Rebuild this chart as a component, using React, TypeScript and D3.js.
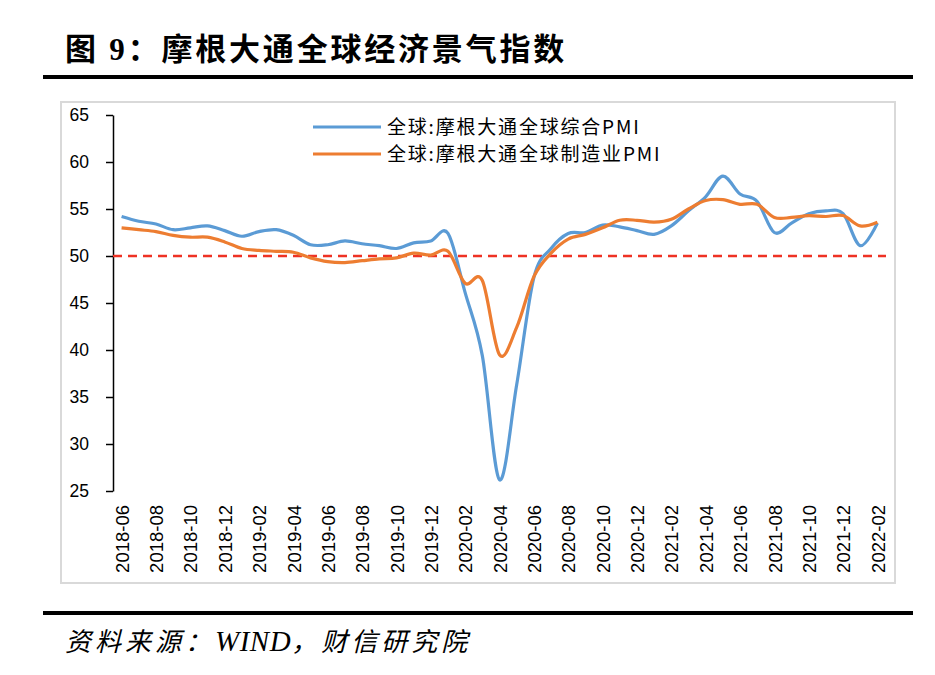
import { useEffect, useRef } from "react";
import * as d3 from "d3";

const months = [
  "2018-06", "2018-07", "2018-08", "2018-09", "2018-10", "2018-11", "2018-12",
  "2019-01", "2019-02", "2019-03", "2019-04", "2019-05", "2019-06", "2019-07",
  "2019-08", "2019-09", "2019-10", "2019-11", "2019-12",
  "2020-01", "2020-02", "2020-03", "2020-04", "2020-05", "2020-06", "2020-07",
  "2020-08", "2020-09", "2020-10", "2020-11", "2020-12",
  "2021-01", "2021-02", "2021-03", "2021-04", "2021-05", "2021-06", "2021-07",
  "2021-08", "2021-09", "2021-10", "2021-11", "2021-12",
  "2022-01", "2022-02",
];

// 全球:摩根大通全球综合PMI
const composite = [
  54.2, 53.7, 53.4, 52.8, 53.0, 53.2, 52.7,
  52.1, 52.6, 52.8, 52.2, 51.2, 51.2, 51.6,
  51.3, 51.1, 50.8, 51.4, 51.6,
  52.4, 46.1, 39.4, 26.2, 36.3, 47.7, 50.8,
  52.4, 52.5, 53.3, 53.1, 52.7,
  52.3, 53.2, 54.8, 56.3, 58.5, 56.6, 55.8,
  52.5, 53.5, 54.5, 54.8, 54.5,
  51.1, 53.5,
];

// 全球:摩根大通全球制造业PMI
const manufacturing = [
  53.0, 52.8, 52.6, 52.2, 52.0, 52.0, 51.5,
  50.8, 50.6, 50.5, 50.4, 49.8, 49.4, 49.3,
  49.5, 49.7, 49.8, 50.3, 50.1,
  50.5, 47.1, 47.4, 39.5, 42.4, 47.8, 50.3,
  51.8, 52.3, 53.0, 53.8, 53.8,
  53.6, 53.9, 55.0, 55.9, 56.0, 55.5, 55.5,
  54.1, 54.1, 54.3, 54.2, 54.3,
  53.2, 53.6,
];

const yTicks = [25, 30, 35, 40, 45, 50, 55, 60, 65];
const threshold = 50;

const seriesList = [
  { name: "全球:摩根大通全球综合PMI", values: composite, color: "#5B9BD5" },
  { name: "全球:摩根大通全球制造业PMI", values: manufacturing, color: "#ED7D31" },
];

const W = 935;
const H = 675;
const CJK = "'Noto Sans CJK SC', sans-serif";
const LATIN = "'Liberation Sans', Arial, sans-serif";

export default function App() {
  const svgRef = useRef<SVGSVGElement>(null);

  useEffect(() => {
    document.body.style.margin = "0";
    const svg = d3.select(svgRef.current);
    svg.selectAll("*").remove();

    svg.append("rect").attr("width", W).attr("height", H).attr("fill", "#fff");

    // --- Title ---
    svg
      .append("text")
      .attr("x", 65)
      .attr("y", 60)
      .attr("font-family", `'Liberation Serif', ${CJK}`)
      .attr("font-weight", "bold")
      .attr("font-size", 31)
      .attr("letter-spacing", 2.8)
      .attr("fill", "#000")
      .text("图 9：摩根大通全球经济景气指数");

    svg
      .append("line")
      .attr("x1", 43)
      .attr("x2", 913)
      .attr("y1", 77)
      .attr("y2", 77)
      .attr("stroke", "#000")
      .attr("stroke-width", 4);

    // --- Chart frame ---
    svg
      .append("rect")
      .attr("x", 61)
      .attr("y", 102)
      .attr("width", 834)
      .attr("height", 481)
      .attr("fill", "#fff")
      .attr("stroke", "#d9d9d9")
      .attr("stroke-width", 2);

    const left = 113;
    const right = 886;
    const top = 115;
    const bottom = 491;

    const x = d3.scalePoint<string>().domain(months).range([left, right]).padding(0.5);
    const y = d3.scaleLinear().domain([25, 65]).range([bottom, top]);

    // --- Y axis ---
    const yAxis = svg
      .append("g")
      .attr("transform", `translate(${left},0)`)
      .call(d3.axisLeft(y).tickValues(yTicks).tickSize(7).tickPadding(17).tickSizeOuter(0));
    yAxis.select(".domain").attr("stroke", "#000").attr("stroke-width", 1.5);
    yAxis.selectAll(".tick line").attr("stroke", "#000").attr("stroke-width", 1.5);
    yAxis
      .selectAll(".tick text")
      .attr("fill", "#000")
      .attr("font-family", LATIN)
      .attr("font-size", 17.5);

    // --- X labels (every other month) ---
    const xAxis = svg
      .append("g")
      .attr("transform", `translate(0,${505})`)
      .call(
        d3
          .axisBottom(x)
          .tickValues(months.filter((_, i) => i % 2 === 0))
          .tickSize(0)
          .tickPadding(0),
      );
    xAxis.select(".domain").remove();
    xAxis
      .selectAll(".tick text")
      .attr("fill", "#000")
      .attr("font-family", LATIN)
      .attr("font-size", 18.5)
      .attr("transform", "rotate(-90)")
      .attr("text-anchor", "end")
      .attr("x", 0)
      .attr("y", 0)
      .attr("dy", "0.36em");

    // --- 50 reference line ---
    svg
      .append("line")
      .attr("x1", left)
      .attr("x2", right)
      .attr("y1", y(threshold))
      .attr("y2", y(threshold))
      .attr("stroke", "#EE3224")
      .attr("stroke-width", 2.5)
      .attr("stroke-dasharray", "9,6");

    // --- Series ---
    const lineGen = d3
      .line<number>()
      .x((_, i) => x(months[i]) as number)
      .y((d) => y(d))
      .curve(d3.curveCardinal.tension(0));

    seriesList.forEach((s) => {
      svg
        .append("path")
        .datum(s.values)
        .attr("fill", "none")
        .attr("stroke", s.color)
        .attr("stroke-width", 3.2)
        .attr("stroke-linejoin", "round")
        .attr("d", lineGen);
    });

    // --- Legend ---
    const legend = svg.append("g").attr("transform", "translate(313,127)");
    seriesList.forEach((s, i) => {
      const row = legend.append("g").attr("transform", `translate(0,${i * 27})`);
      row
        .append("line")
        .attr("x1", 0)
        .attr("x2", 68)
        .attr("stroke", s.color)
        .attr("stroke-width", 3.2);
      row
        .append("text")
        .attr("x", 74)
        .attr("dy", "0.36em")
        .attr("font-family", CJK)
        .attr("font-size", 19)
        .attr("letter-spacing", 1.8)
        .attr("fill", "#000")
        .text(s.name);
    });

    // --- Footer ---
    svg
      .append("line")
      .attr("x1", 43)
      .attr("x2", 913)
      .attr("y1", 613)
      .attr("y2", 613)
      .attr("stroke", "#000")
      .attr("stroke-width", 4);

    const source = svg
      .append("text")
      .attr("x", 65)
      .attr("y", 651)
      .attr("font-family", `'Liberation Serif', ${CJK}`)
      .attr("font-style", "italic")
      .attr("font-size", 26)
      .attr("fill", "#000");
    source.append("tspan").attr("letter-spacing", 4).text("资料来源：");
    source.append("tspan").attr("font-size", 29).attr("letter-spacing", 0.5).text("WIND");
    source.append("tspan").attr("letter-spacing", 4).text("，财信研究院");
  }, []);

  return <svg ref={svgRef} width={W} height={H} style={{ display: "block" }} />;
}
